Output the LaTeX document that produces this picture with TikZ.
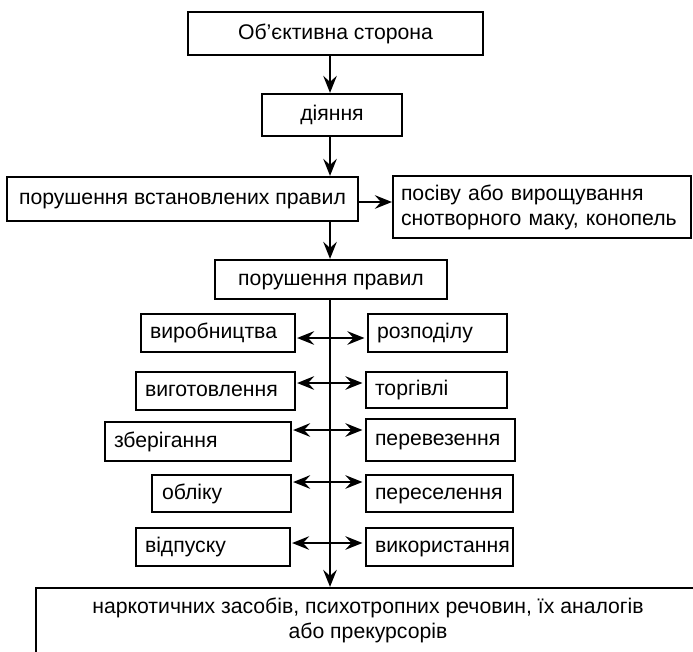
\documentclass[tikz,border=0pt]{standalone}
\usepackage{fontspec}
\setmainfont{Liberation Sans}
\usetikzlibrary{arrows.meta}
\hfuzz=40pt
\begin{document}
\begin{tikzpicture}[x=1pt,y=-1pt,
  txt/.style={font=\fontsize{21.2}{25}\selectfont},
  bx/.style={txt, draw, line width=2.2pt, inner sep=0pt, text height=15.5pt, text depth=4.3pt},
  lb/.style={bx, inner xsep=9pt, execute at begin node={\hbox to #1\bgroup}, execute at end node={\hfil\egroup}},
  tip/.tip={Stealth[length=17pt,width=13.5pt,inset=6pt]},
  arr/.style={line width=2.2pt, -tip},
  dbl/.style={line width=2.2pt, tip-tip, shorten <=1pt, shorten >=2.5pt}]
\useasboundingbox (0,0) rectangle (693,652);
\clip (0,0) rectangle (693,652);
\coordinate (axis) at (330,0);
\coordinate (yA) at (0,202);
\coordinate (y1) at (0,338);
\coordinate (y2) at (0,383);
\coordinate (y3) at (0,430);
\coordinate (y4) at (0,482);
\coordinate (y5) at (0,543);

\node[bx, minimum width=295pt, minimum height=43pt] (top) at (335.5,33.5) {Об’єктивна сторона};
\node[bx, minimum width=140pt, minimum height=42pt] (act) at (332,115) {діяння};
\node[bx, minimum width=351pt, minimum height=44pt] (viol) at (182.5,199) {порушення встановлених правил};
\node[txt, draw, line width=2.2pt, align=left, text width=282pt, inner xsep=8pt, inner ysep=0pt, minimum height=62pt] (sow) at (542,207) {посіву або вирощування\\снотворного маку, конопель};
\node[bx, minimum width=232pt, minimum height=39pt] (pp) at (331,279.5) {порушення правил};

\node[lb=136pt, minimum height=38pt] (L1) at (218,333) {виробництва};
\node[lb=121pt, minimum height=38pt] (R1) at (437.5,333) {розподілу};
\node[lb=141pt, minimum height=38pt] (L2) at (215.5,391) {виготовлення};
\node[lb=123pt, minimum height=36pt] (R2) at (436.5,390) {торгівлі};
\node[lb=168pt, minimum height=39pt] (L3) at (198,441.5) {зберігання};
\node[lb=131pt, minimum height=42pt] (R3) at (440.5,440) {перевезення};
\node[lb=121pt, minimum height=37pt] (L4) at (221.5,493.5) {\hspace*{1pt}обліку};
\node[lb=129pt, minimum height=37pt] (R4) at (439.5,493.5) {переселення};
\node[lb=136pt, minimum height=38pt] (L5) at (213,547) {відпуску};
\node[lb=129pt, minimum height=38pt] (R5) at (439.5,547) {використання};

\node[draw, line width=2.2pt, minimum width=686pt, minimum height=92pt] (bottom) at (379,634) {};
\node[txt, align=center, inner sep=0pt] (btext) at (368,620.5) {наркотичних засобів, психотропних речовин, їх аналогів\\або прекурсорів};

\draw[arr] (top.south -| axis) -- (act.north -| axis);
\draw[arr] (act.south -| axis) -- (viol.north -| axis);
\draw[arr] (viol.east |- yA) -- (sow.west |- yA);
\draw[arr] (viol.south -| axis) -- (pp.north -| axis);
\draw[arr] (pp.south -| axis) -- (bottom.north -| axis);

\draw[dbl] (L1.east |- y1) -- (R1.west |- y1);
\draw[dbl] (L2.east |- y2) -- (R2.west |- y2);
\draw[dbl] (L3.east |- y3) -- (R3.west |- y3);
\draw[dbl] (L4.east |- y4) -- (R4.west |- y4);
\draw[dbl] (L5.east |- y5) -- (R5.west |- y5);
\end{tikzpicture}
\end{document}
